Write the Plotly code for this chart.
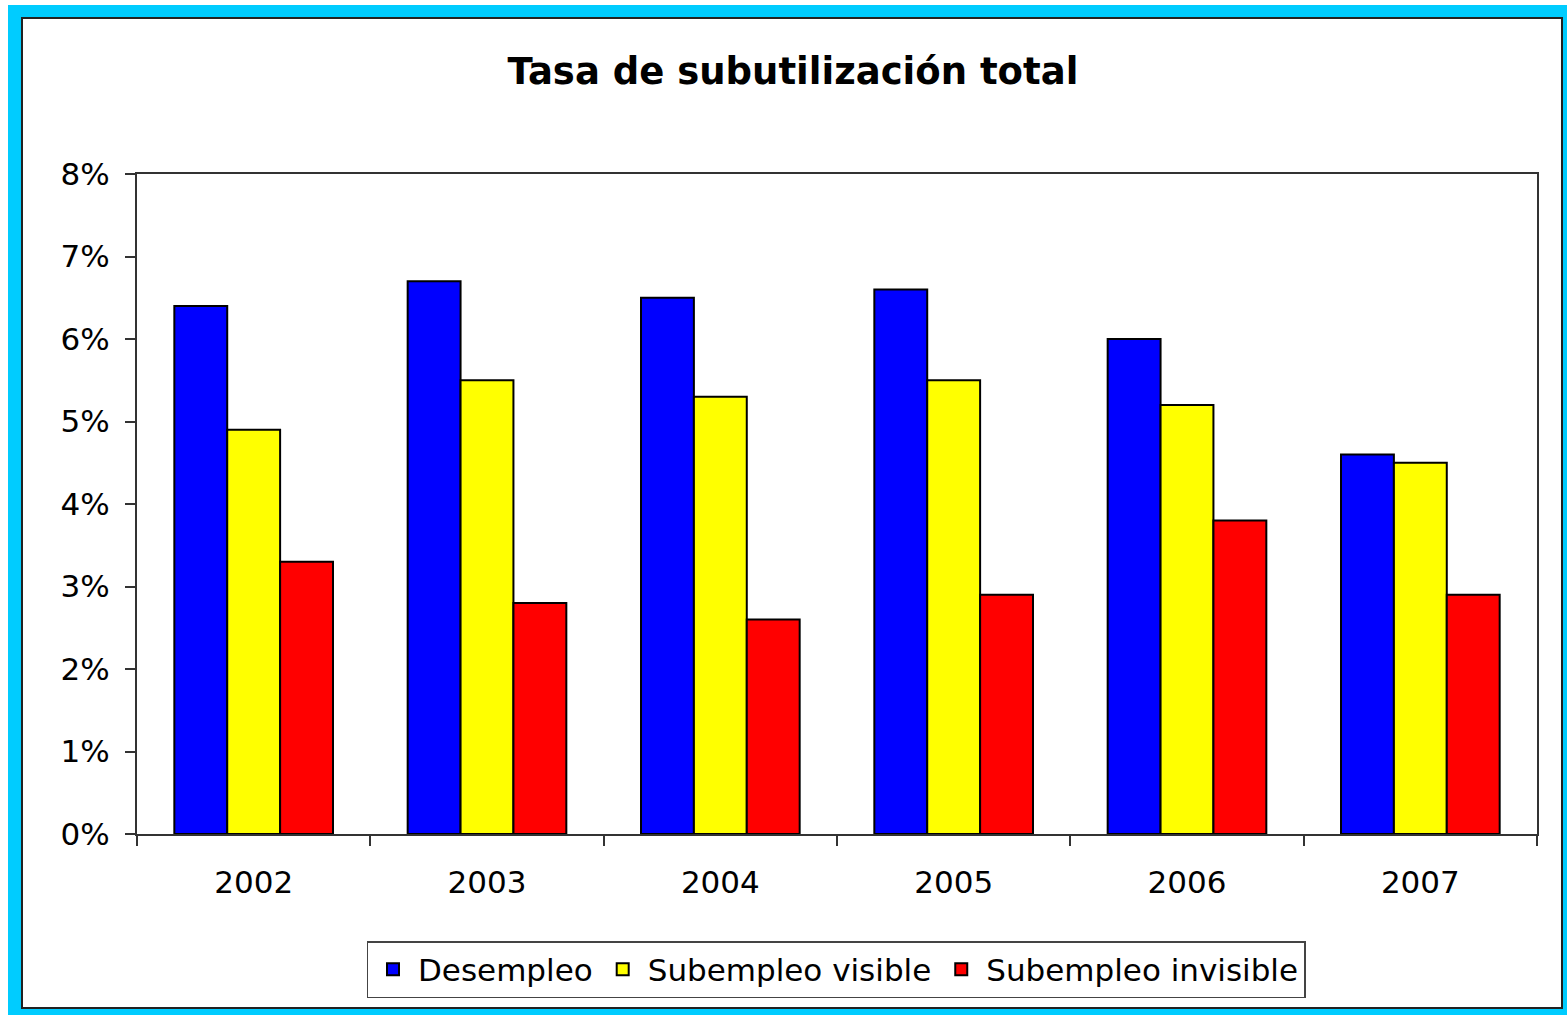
import plotly.graph_objects as go

years = ["2002", "2003", "2004", "2005", "2006", "2007"]
desempleo = [6.4, 6.7, 6.5, 6.6, 6.0, 4.6]
sub_visible = [4.9, 5.5, 5.3, 5.5, 5.2, 4.5]
sub_invisible = [3.3, 2.8, 2.6, 2.9, 3.8, 2.9]
series_names = ["Desempleo", "Subempleo visible", "Subempleo invisible"]
colors = ["#0000FF", "#FFFF00", "#FF0000"]
y_ticks = [0, 1, 2, 3, 4, 5, 6, 7, 8]

W, H = 1567, 1015
L, R, T, B = 137, 1537, 174, 834  # plot area in pixels
pw, ph = R - L, B - T

def px(x):
    return (x - L) / pw

def py(y):
    return (B - y) / ph

fig = go.Figure()
for name, vals, col in zip(series_names, [desempleo, sub_visible, sub_invisible], colors):
    fig.add_trace(go.Bar(
        x=years, y=vals, name=name,
        marker=dict(color=col, line=dict(color="#000000", width=2)),
    ))

font_family = "DejaVu Sans, Verdana, sans-serif"
fs = 31

fig.update_layout(
    width=W, height=H,
    margin=dict(l=L, r=W - R, t=T, b=H - B, pad=0),
    paper_bgcolor="#FFFFFF",
    plot_bgcolor="#FFFFFF",
    barmode="group",
    bargap=0.32,
    bargroupgap=0,
    font=dict(family=font_family, color="#000000", size=fs),
    title=dict(
        text="<b>Tasa de subutilización total</b>",
        x=0.506, xanchor="center", y=1 - 71 / H, yanchor="middle",
        font=dict(size=37, family=font_family, color="#000000"),
    ),
    showlegend=True,
    legend=dict(
        orientation="h",
        x=px(836), xanchor="center",
        y=py(941), yanchor="top",
        bordercolor="#444444", borderwidth=1.5,
        bgcolor="#FFFFFF",
        font=dict(size=fs, family=font_family, color="#000000"),
        traceorder="normal",
        itemwidth=40,
    ),
    xaxis=dict(
        type="category",
        showline=True, linecolor="#333333", linewidth=2, mirror=True,
        ticks="outside", tickson="boundaries", ticklen=10, tickcolor="#333333", tickwidth=1.5,
        showgrid=False, zeroline=False,
        ticklabelstandoff=20,
        tickfont=dict(size=fs, family=font_family, color="#000000"),
    ),
    yaxis=dict(
        range=[0, 8],
        tickvals=y_ticks,
        ticktext=[f"{v}%" for v in y_ticks],
        showline=True, linecolor="#333333", linewidth=2, mirror=True,
        ticks="outside", ticklen=10, tickcolor="#333333", tickwidth=1.5,
        showgrid=False, zeroline=False,
        ticklabelstandoff=9,
        tickfont=dict(size=fs, family=font_family, color="#000000"),
    ),
    shapes=[
        dict(type="rect", xref="paper", yref="paper", layer="below",
             x0=px(8), x1=px(W + 5), y0=py(H + 5), y1=py(5),
             fillcolor="#00CCFF", line=dict(width=0)),
        dict(type="rect", xref="paper", yref="paper", layer="below",
             x0=px(22), x1=px(1562), y0=py(1008), y1=py(18),
             fillcolor="#FFFFFF", line=dict(color="#222222", width=2)),
    ],
)

fig.write_html(
    "out.html",
    config={"displayModeBar": False},
    post_script="document.body.style.margin='0';document.body.style.overflow='hidden';",
)
